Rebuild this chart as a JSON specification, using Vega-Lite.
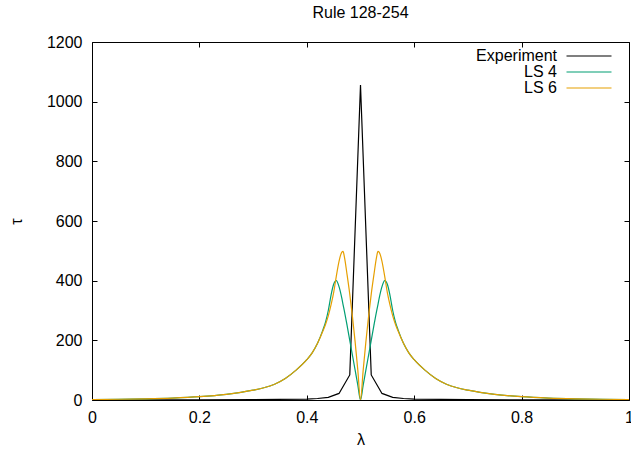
{
  "$schema": "https://vega.github.io/schema/vega-lite/v6.json",
  "width": 537,
  "height": 358,
  "autosize": {"type": "none"},
  "padding": {"left": 92, "top": 42, "right": 2, "bottom": 55},
  "background": "white",
  "title": {"text": "Rule 128-254", "fontSize": 16, "fontWeight": "normal", "font": "Liberation Sans", "color": "#000", "offset": 13, "anchor": "middle"},
  "config": {
    "view": {"stroke": "#000", "strokeWidth": 1},
    "font": "Liberation Sans",
    "axis": {"grid": false, "domain": false, "tickColor": "#000", "tickSize": -5, "tickWidth": 1, "labelFlush": false, "labelFont": "Liberation Sans", "labelFontSize": 16, "labelColor": "#000", "titleFont": "Liberation Sans", "titleFontSize": 16, "titleFontWeight": "normal", "titleColor": "#000"},
    "legend": {"orient": "none", "legendX": 489, "legendY": 6, "symbolType": "M-4.5,0H4.5", "symbolSize": 100, "symbolStrokeWidth": 1.2, "labelFont": "Liberation Sans", "labelFontSize": 16, "labelColor": "#000", "labelAlign": "right", "labelOffset": -40, "rowPadding": 0, "title": null}
  },
  "datasets": {
    "exp": [
      {"lambda": 0.0, "tau": 0},
      {"lambda": 0.1, "tau": 0.3},
      {"lambda": 0.2, "tau": 0.6},
      {"lambda": 0.3, "tau": 1.2},
      {"lambda": 0.4, "tau": 3},
      {"lambda": 0.42, "tau": 5},
      {"lambda": 0.44, "tau": 9},
      {"lambda": 0.46, "tau": 22},
      {"lambda": 0.48, "tau": 84},
      {"lambda": 0.5, "tau": 1056},
      {"lambda": 0.52, "tau": 84},
      {"lambda": 0.54, "tau": 22},
      {"lambda": 0.56, "tau": 9},
      {"lambda": 0.58, "tau": 5},
      {"lambda": 0.6, "tau": 3},
      {"lambda": 0.7, "tau": 1.2},
      {"lambda": 0.8, "tau": 0.6},
      {"lambda": 0.9, "tau": 0.3},
      {"lambda": 1.0, "tau": 0}
    ],
    "ls": [
      {"lambda": 0.0, "LS 4": 1.5, "LS 6": 1.5},
      {"lambda": 0.05, "LS 4": 2.5, "LS 6": 2.5},
      {"lambda": 0.1, "LS 4": 4, "LS 6": 4},
      {"lambda": 0.15, "LS 4": 6.5, "LS 6": 6.5},
      {"lambda": 0.2, "LS 4": 11, "LS 6": 11},
      {"lambda": 0.25, "LS 4": 19, "LS 6": 19},
      {"lambda": 0.3, "LS 4": 33, "LS 6": 33},
      {"lambda": 0.32, "LS 4": 41, "LS 6": 41},
      {"lambda": 0.34, "LS 4": 53, "LS 6": 53},
      {"lambda": 0.36, "LS 4": 72, "LS 6": 72},
      {"lambda": 0.38, "LS 4": 100, "LS 6": 100},
      {"lambda": 0.4, "LS 4": 135, "LS 6": 135},
      {"lambda": 0.41, "LS 4": 158, "LS 6": 158},
      {"lambda": 0.42, "LS 4": 190, "LS 6": 190},
      {"lambda": 0.43, "LS 4": 235, "LS 6": 231},
      {"lambda": 0.435, "LS 4": 262, "LS 6": 254},
      {"lambda": 0.44, "LS 4": 300, "LS 6": 282},
      {"lambda": 0.445, "LS 4": 350, "LS 6": 318},
      {"lambda": 0.45, "LS 4": 388, "LS 6": 360},
      {"lambda": 0.455, "LS 4": 400, "LS 6": 415},
      {"lambda": 0.46, "LS 4": 380, "LS 6": 465},
      {"lambda": 0.465, "LS 4": 343, "LS 6": 495},
      {"lambda": 0.4675, "LS 4": 320, "LS 6": 498},
      {"lambda": 0.47, "LS 4": 298, "LS 6": 480},
      {"lambda": 0.475, "LS 4": 250, "LS 6": 420},
      {"lambda": 0.48, "LS 4": 200, "LS 6": 355},
      {"lambda": 0.485, "LS 4": 150, "LS 6": 280},
      {"lambda": 0.49, "LS 4": 100, "LS 6": 195},
      {"lambda": 0.495, "LS 4": 50, "LS 6": 100},
      {"lambda": 0.5, "LS 4": 0, "LS 6": 0},
      {"lambda": 0.505, "LS 4": 50, "LS 6": 100},
      {"lambda": 0.51, "LS 4": 100, "LS 6": 195},
      {"lambda": 0.515, "LS 4": 150, "LS 6": 280},
      {"lambda": 0.52, "LS 4": 200, "LS 6": 355},
      {"lambda": 0.525, "LS 4": 250, "LS 6": 420},
      {"lambda": 0.53, "LS 4": 298, "LS 6": 480},
      {"lambda": 0.5325, "LS 4": 320, "LS 6": 498},
      {"lambda": 0.535, "LS 4": 343, "LS 6": 495},
      {"lambda": 0.54, "LS 4": 380, "LS 6": 465},
      {"lambda": 0.545, "LS 4": 400, "LS 6": 415},
      {"lambda": 0.55, "LS 4": 388, "LS 6": 360},
      {"lambda": 0.555, "LS 4": 350, "LS 6": 318},
      {"lambda": 0.56, "LS 4": 300, "LS 6": 282},
      {"lambda": 0.565, "LS 4": 262, "LS 6": 254},
      {"lambda": 0.57, "LS 4": 235, "LS 6": 231},
      {"lambda": 0.58, "LS 4": 190, "LS 6": 190},
      {"lambda": 0.59, "LS 4": 158, "LS 6": 158},
      {"lambda": 0.6, "LS 4": 135, "LS 6": 135},
      {"lambda": 0.62, "LS 4": 100, "LS 6": 100},
      {"lambda": 0.64, "LS 4": 72, "LS 6": 72},
      {"lambda": 0.66, "LS 4": 53, "LS 6": 53},
      {"lambda": 0.68, "LS 4": 41, "LS 6": 41},
      {"lambda": 0.7, "LS 4": 33, "LS 6": 33},
      {"lambda": 0.75, "LS 4": 19, "LS 6": 19},
      {"lambda": 0.8, "LS 4": 11, "LS 6": 11},
      {"lambda": 0.85, "LS 4": 6.5, "LS 6": 6.5},
      {"lambda": 0.9, "LS 4": 4, "LS 6": 4},
      {"lambda": 0.95, "LS 4": 2.5, "LS 6": 2.5},
      {"lambda": 1.0, "LS 4": 1.5, "LS 6": 1.5}
    ]
  },
  "layer": [
    {
      "data": {"name": "exp"},
      "mark": {"type": "line", "strokeWidth": 1.2, "clip": true},
      "encoding": {
        "x": {"field": "lambda", "type": "quantitative", "scale": {"domain": [0, 1], "nice": false, "zero": false},
              "axis": {"orient": "bottom", "values": [0, 0.2, 0.4, 0.6, 0.8, 1], "format": "~g", "title": "λ", "labelPadding": 14, "titlePadding": 6}},
        "y": {"field": "tau", "type": "quantitative", "scale": {"domain": [0, 1200], "nice": false},
              "axis": {"orient": "left", "values": [0, 200, 400, 600, 800, 1000, 1200], "format": "d", "title": "τ", "labelPadding": 15, "titlePadding": 22}},
        "color": {"datum": "Experiment", "type": "nominal",
                  "scale": {"domain": ["Experiment", "LS 4", "LS 6"], "range": ["#000000", "#009e73", "#e69f00"]}}
      }
    },
    {
      "data": {"name": "ls"},
      "transform": [{"fold": ["LS 4", "LS 6"], "as": ["series", "tau"]}],
      "mark": {"type": "line", "strokeWidth": 1.2, "interpolate": "monotone", "clip": true},
      "encoding": {
        "x": {"field": "lambda", "type": "quantitative",
              "axis": {"orient": "top", "values": [0, 0.2, 0.4, 0.6, 0.8, 1], "labels": false, "title": null}},
        "y": {"field": "tau", "type": "quantitative",
              "axis": {"orient": "right", "values": [0, 200, 400, 600, 800, 1000, 1200], "labels": false, "title": null}},
        "color": {"field": "series", "type": "nominal"}
      }
    }
  ],
  "resolve": {"axis": {"x": "independent", "y": "independent"}}
}
